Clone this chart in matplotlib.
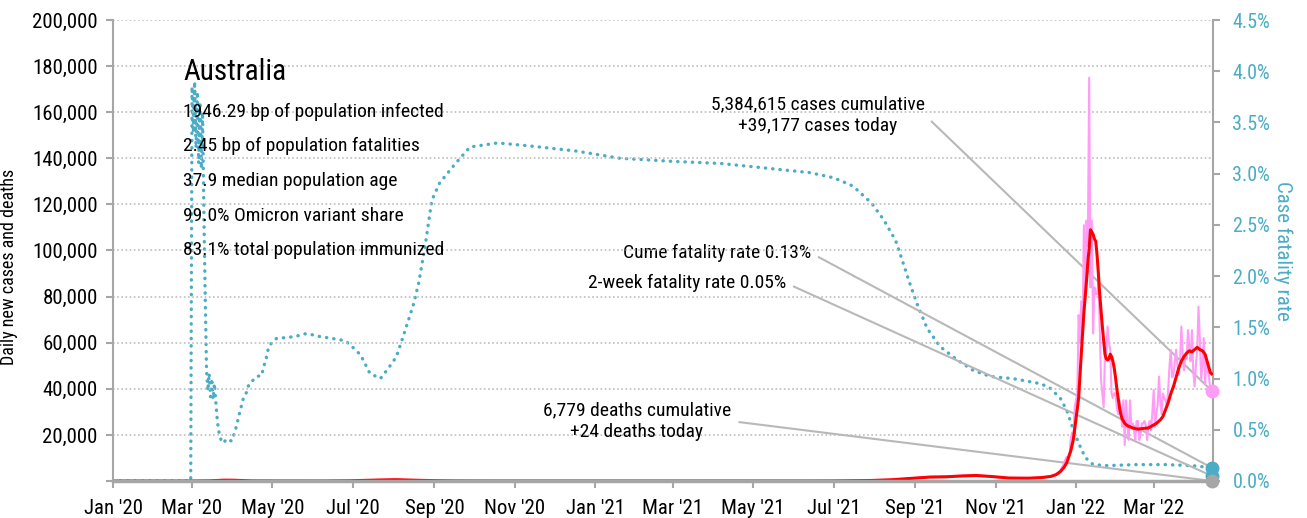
import pandas as pd
import matplotlib.pyplot as plt
import matplotlib.dates as mdates
from matplotlib import font_manager
from matplotlib.ticker import FuncFormatter, MultipleLocator

# condensed face like the original; fall back to DejaVu Sans
installed = {f.name for f in font_manager.fontManager.ttflist}
narrow = [n for n in ('Roboto Condensed', 'Archivo Narrow', 'Liberation Sans Narrow') if n in installed]
plt.rcParams['font.family'] = narrow[:1] + ['DejaVu Sans']

# ---- data ----
country = 'Australia'
info_lines = [
    '1946.29 bp of population infected',
    '2.45 bp of population fatalities',
    '37.9 median population age',
    '99.0% Omicron variant share',
    '83.1% total population immunized',
]

# case fatality rate (%), right axis
cfr_dates = ['2020-01-01', '2020-02-29', '2020-03-01', '2020-03-02', '2020-03-03', '2020-03-04',
             '2020-03-05', '2020-03-06', '2020-03-07', '2020-03-08', '2020-03-09', '2020-03-10',
             '2020-03-11', '2020-03-12', '2020-03-13', '2020-03-14', '2020-03-15', '2020-03-16',
             '2020-03-17', '2020-03-18', '2020-03-19', '2020-03-20', '2020-03-21', '2020-03-23',
             '2020-03-25', '2020-03-27', '2020-03-31', '2020-04-02', '2020-04-04', '2020-04-06',
             '2020-04-09', '2020-04-12', '2020-04-13', '2020-04-16', '2020-04-19', '2020-04-23',
             '2020-04-24', '2020-04-26', '2020-04-28', '2020-05-01', '2020-05-04', '2020-05-18',
             '2020-05-27', '2020-06-06', '2020-06-16', '2020-06-25', '2020-06-29', '2020-07-07',
             '2020-07-14', '2020-07-22', '2020-07-28', '2020-08-03', '2020-08-08', '2020-08-13',
             '2020-08-16', '2020-08-20', '2020-08-25', '2020-08-30', '2020-09-05', '2020-09-17',
             '2020-09-28', '2020-10-19', '2020-11-13', '2020-12-18', '2021-01-20', '2021-03-01',
             '2021-04-06', '2021-05-14', '2021-06-13', '2021-07-01', '2021-07-14', '2021-07-19',
             '2021-07-30', '2021-08-08', '2021-08-17', '2021-08-22', '2021-08-27', '2021-09-02',
             '2021-09-10', '2021-09-20', '2021-10-03', '2021-10-15', '2021-10-28', '2021-11-14',
             '2021-12-05', '2021-12-12', '2021-12-20', '2021-12-25', '2021-12-30', '2022-01-03',
             '2022-01-08', '2022-01-14', '2022-01-25', '2022-02-15', '2022-03-10', '2022-03-30',
             '2022-04-14']
cfr_pct = [0.0, 0.0, 3.85, 3.40, 3.90, 3.25,
           3.80, 3.10, 3.70, 3.05, 3.60, 2.60,
           1.80, 1.08, 0.88, 1.05, 0.82, 1.00,
           0.80, 0.95, 0.78, 0.62, 0.50, 0.40,
           0.37, 0.41, 0.39, 0.46, 0.55, 0.66,
           0.81, 0.88, 0.94, 0.98, 1.02, 1.03,
           1.10, 1.18, 1.30, 1.36, 1.39, 1.41,
           1.44, 1.41, 1.39, 1.37, 1.33, 1.23,
           1.05, 1.00, 1.10, 1.21, 1.40, 1.60,
           1.72, 1.93, 2.30, 2.74, 2.91, 3.10,
           3.26, 3.30, 3.27, 3.22, 3.15, 3.12,
           3.10, 3.05, 3.01, 2.96, 2.89, 2.84,
           2.71, 2.55, 2.35, 2.16, 1.96, 1.74,
           1.49, 1.31, 1.18, 1.08, 1.02, 1.00,
           0.95, 0.91, 0.81, 0.69, 0.50, 0.37,
           0.23, 0.16, 0.15, 0.16, 0.16, 0.15,
           0.13]

# 7-day average of new cases
avg_dates = ['2020-01-01', '2020-02-29', '2020-03-15', '2020-03-25', '2020-04-02', '2020-04-15',
             '2020-05-10', '2020-06-09', '2020-06-29', '2020-07-19', '2020-08-03', '2020-08-18',
             '2020-09-02', '2020-09-17', '2020-10-17', '2021-01-15', '2021-03-26', '2021-06-14',
             '2021-06-29', '2021-07-14', '2021-07-29', '2021-08-13', '2021-08-23', '2021-09-02',
             '2021-09-12', '2021-09-24', '2021-10-07', '2021-10-17', '2021-10-30', '2021-11-11',
             '2021-11-26', '2021-12-06', '2021-12-13', '2021-12-17', '2021-12-20', '2021-12-23',
             '2021-12-25', '2021-12-28', '2021-12-30', '2022-01-01', '2022-01-03', '2022-01-05',
             '2022-01-07', '2022-01-09', '2022-01-10', '2022-01-11', '2022-01-12', '2022-01-13',
             '2022-01-14', '2022-01-15', '2022-01-16', '2022-01-17', '2022-01-18', '2022-01-19',
             '2022-01-20', '2022-01-21', '2022-01-22', '2022-01-23', '2022-01-24', '2022-01-25',
             '2022-01-26', '2022-01-27', '2022-01-28', '2022-01-29', '2022-01-30', '2022-01-31',
             '2022-02-01', '2022-02-02', '2022-02-03', '2022-02-04', '2022-02-05', '2022-02-07',
             '2022-02-09', '2022-02-13', '2022-02-17', '2022-02-21', '2022-02-25', '2022-02-28',
             '2022-03-03', '2022-03-06', '2022-03-08', '2022-03-10', '2022-03-12', '2022-03-14',
             '2022-03-16', '2022-03-18', '2022-03-20', '2022-03-22', '2022-03-24', '2022-03-26',
             '2022-03-28', '2022-03-30', '2022-04-01', '2022-04-03', '2022-04-05', '2022-04-07',
             '2022-04-09', '2022-04-11', '2022-04-13', '2022-04-14']
avg_cases = [0, 3, 90, 360, 330, 60,
             15, 10, 100, 400, 560, 330,
             130, 40, 10, 10, 10, 12,
             30, 110, 220, 500, 900, 1300,
             1700, 1800, 2200, 2400, 1900, 1300,
             1200, 1500, 2000, 2800, 4000, 6000,
             8000, 13000, 18000, 27000, 36000, 55000,
             73000, 87000, 95000, 101000, 109000, 108000,
             107000, 105000, 104000, 98000, 90000, 81000,
             74000, 67000, 61000, 55000, 53000, 52500,
             53000, 55000, 54000, 52000, 49000, 45000,
             40000, 36000, 32000, 29000, 27000, 25000,
             24000, 23000, 22500, 22800, 23000, 24000,
             25000, 26500, 28000, 31000, 34000, 38000,
             41000, 45000, 49000, 52000, 54000, 55500,
             56500, 56000, 57000, 58000, 57000, 56500,
             55000, 51000, 47000, 46500]

# daily new cases: sparse before the Omicron wave, daily from 15 Dec 2021
early_daily_dates = ['2020-01-01', '2020-02-29', '2020-03-15', '2020-03-27', '2020-04-05', '2020-04-20',
                     '2020-06-09', '2020-07-05', '2020-07-20', '2020-08-01', '2020-08-10', '2020-08-25',
                     '2020-09-15', '2020-10-17', '2021-03-26', '2021-06-29', '2021-07-29', '2021-08-23',
                     '2021-09-12', '2021-10-07', '2021-10-17', '2021-11-11', '2021-12-06', '2021-12-14']
early_daily_cases = [0, 3, 110, 460, 280, 40,
                     10, 130, 450, 700, 480, 250,
                     50, 10, 10, 35, 240, 950,
                     1800, 2300, 2500, 1200, 1500, 2100]
omicron_start = '2021-12-15'
omicron_daily_cases = [2200, 2500, 3000, 3500, 4000, 4500, 5500, 6500, 8000, 9500,
                       10500, 9000, 11000, 18000, 21000, 18000, 32000, 35000, 38000, 72000,
                       60000, 78000, 64000, 111000, 80000, 113000, 102000, 175000,
                       84000, 113000, 64000, 84000, 81000, 81000, 86000, 67000, 44000, 38000,
                       32000, 55000, 55000, 67000, 60000, 57000, 38000, 36000, 38000, 38000,
                       32000, 29000, 35000, 30000, 23500, 35000, 15600, 35000, 25000, 17800,
                       35000, 23500, 25000, 22000, 17800, 26000, 26000, 17800, 20000, 25000,
                       25000, 26000, 24000, 17800, 24000, 26000, 22000, 30000, 39500, 23500,
                       29000, 33000, 45300, 35000, 29000, 38000, 36000, 35000, 32000, 40000,
                       50000, 56800, 45000, 46000, 52000, 57000, 50000, 46000, 52000, 67000,
                       55000, 48000, 55000, 53000, 65500, 58000, 52000, 65500, 48000, 41000,
                       50000, 57000, 75600, 62000, 44000, 50000, 62000, 42000, 52000, 48000,
                       45000, 39000, 39177]

# daily deaths (barely above zero on this scale)
death_dates = ['2020-01-01', '2020-04-05', '2020-05-01', '2020-08-05', '2020-09-05', '2020-10-15',
               '2021-08-01', '2021-09-15', '2021-10-15', '2021-11-20', '2021-12-20', '2022-01-20',
               '2022-02-15', '2022-03-15', '2022-04-14']
daily_deaths = [0, 5, 1, 20, 10, 0, 1, 12, 14, 5, 5, 80, 40, 20, 24]

cases_cumulative = '5,384,615'
cases_today = '+39,177'
deaths_cumulative = '6,779'
deaths_today = '+24'
cume_fatality = 0.13
two_week_fatality = 0.05

# ---- colours ----
blue = '#4BACC6'
pink = '#FF9CF5'
red = '#FF0000'
grey = '#A6A6A6'
line_grey = '#B8B8B8'

cfr_x = pd.to_datetime(cfr_dates)
avg_x = pd.to_datetime(avg_dates)
daily_x = pd.to_datetime(early_daily_dates).append(
    pd.date_range(omicron_start, periods=len(omicron_daily_cases)))
daily_y = early_daily_cases + omicron_daily_cases
death_x = pd.to_datetime(death_dates)
last_day = daily_x[-1]

fig = plt.figure(figsize=(13.07, 5.18), dpi=100)
ax = fig.add_axes([113 / 1307, 1 - 481 / 518, 1100 / 1307, 461 / 518])
ax2 = ax.twinx()
ax.set_zorder(ax2.get_zorder() + 1)
ax.patch.set_visible(False)

# case fatality rate (dotted, right axis)
ax2.plot(cfr_x, [v / 100 for v in cfr_pct], color=blue, lw=2.4,
         linestyle=(0, (0.1, 2.1)), dash_capstyle='round')
ax2.plot([last_day], [cume_fatality / 100], 'o', color=blue, ms=9, clip_on=False, zorder=5)
ax2.plot([last_day], [two_week_fatality / 100], 'o', color=blue, ms=9, clip_on=False, zorder=5)

# cases and deaths (left axis)
ax.plot(death_x, daily_deaths, color='#C8C8C8', lw=1.2)
ax.plot(daily_x, daily_y, color=pink, lw=1.5)
ax.plot(avg_x, avg_cases, color=red, lw=2.2)
ax.plot([last_day], [daily_y[-1]], 'o', color=pink, ms=9, clip_on=False, zorder=5)
ax.plot([last_day], [daily_deaths[-1]], 'o', color=grey, ms=9, clip_on=False, zorder=5)

# axes styling
ax.set_xlim(pd.Timestamp('2020-01-01'), pd.Timestamp('2022-04-15'))
ax.set_ylim(0, 200000)
ax2.set_ylim(0, 0.045)
ax.yaxis.set_major_locator(MultipleLocator(20000))
ax.yaxis.set_major_formatter(FuncFormatter(lambda v, p: '' if v == 0 else f'{v:,.0f}'))
ax2.yaxis.set_major_locator(MultipleLocator(0.005))
ax2.yaxis.set_major_formatter(FuncFormatter(lambda v, p: f'{v * 100:.1f}%'))
ax.xaxis.set_major_locator(mdates.MonthLocator(bymonth=[1, 3, 5, 7, 9, 11]))
ax.xaxis.set_major_formatter(mdates.DateFormatter("%b '%y"))

ax.yaxis.grid(True, linestyle=(0, (1, 1.5)), color='#BDBDBD', lw=1.2)
ax.set_axisbelow(True)

for a in (ax, ax2):
    a.spines['top'].set_visible(False)
ax.spines['right'].set_visible(False)
ax2.spines['left'].set_visible(False)
ax2.spines['bottom'].set_visible(False)
ax.spines['left'].set_color(grey)
ax.spines['left'].set_linewidth(1.5)
ax.spines['bottom'].set_color(grey)
ax.spines['bottom'].set_linewidth(2.5)
ax2.spines['right'].set_color(grey)
ax2.spines['right'].set_linewidth(1.5)

ax.tick_params(axis='y', direction='out', length=5, width=1.5, color=grey, labelsize=15, pad=6)
ax.tick_params(axis='x', direction='out', length=5, color=grey, width=1.5, labelsize=15, pad=8)
ax2.tick_params(axis='y', direction='out', length=5, width=1.5, color=grey, labelsize=14.5,
                labelcolor=blue, pad=9)

ax.set_ylabel('Daily new cases and deaths', fontsize=13)
ax.yaxis.set_label_coords(-0.086, 0.464)
ax2.set_ylabel('Case fatality rate', fontsize=15, color=blue, rotation=270, va='center')
ax2.yaxis.set_label_coords(1.063, 0.5)

# country block
ax.text(0.0636, 0.8698, country, transform=ax.transAxes, fontsize=21, va='baseline')
info_y = [0.790, 0.715, 0.640, 0.565, 0.490]
for yy, line in zip(info_y, info_lines):
    ax.text(0.0636, yy, line, transform=ax.transAxes, fontsize=14, va='baseline')

# callouts
arrow = dict(arrowstyle='-', color=line_grey, lw=1.5, shrinkA=4, shrinkB=0, relpos=(1, 0.5))
ax.annotate(f'{cases_cumulative} cases cumulative\n{cases_today} cases today',
            xy=(last_day, daily_y[-1]), xytext=(0.738, 0.794), textcoords='axes fraction',
            ha='right', va='center', multialignment='center', fontsize=14,
            linespacing=1.3, arrowprops=arrow, zorder=1)
ax2.annotate(f'Cume fatality rate {cume_fatality:.2f}%',
             xy=(last_day, cume_fatality / 100), xytext=(0.6345, 0.4946),
             textcoords='axes fraction', ha='right', va='center', fontsize=14,
             arrowprops=arrow)
ax2.annotate(f'2-week fatality rate {two_week_fatality:.2f}%',
             xy=(last_day, two_week_fatality / 100), xytext=(0.6118, 0.4295),
             textcoords='axes fraction', ha='right', va='center', fontsize=14,
             arrowprops=arrow)
ax.annotate(f'{deaths_cumulative} deaths cumulative\n{deaths_today} deaths today',
            xy=(last_day, daily_deaths[-1]), xytext=(0.5618, 0.130), textcoords='axes fraction',
            ha='right', va='center', multialignment='center', fontsize=14,
            linespacing=1.3, arrowprops=arrow, zorder=1)

fig.savefig('out.png', dpi=100)
